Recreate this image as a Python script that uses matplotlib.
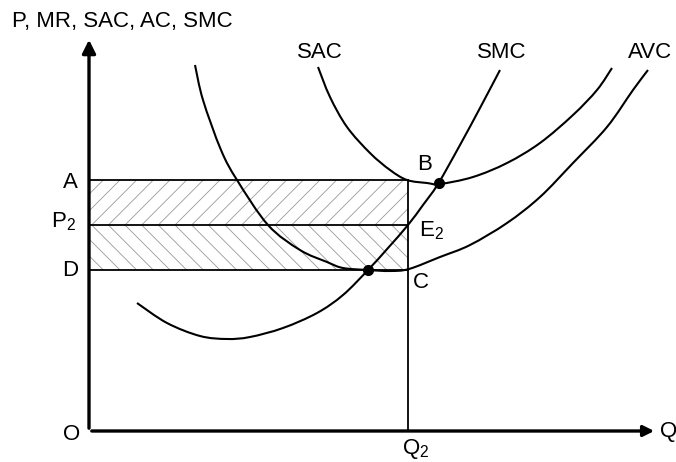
import numpy as np
import matplotlib.pyplot as plt
from matplotlib.patches import Rectangle, PathPatch
from matplotlib.path import Path

plt.rcParams['font.family'] = ['Liberation Sans', 'DejaVu Sans']
plt.rcParams['mathtext.fontset'] = 'custom'
plt.rcParams['mathtext.rm'] = 'Liberation Sans'
plt.rcParams['hatch.linewidth'] = 0.6

# price levels and output (diagram units)
A = 251
P2 = 206
D = 161
Q2 = 319

# short-run average cost
sac_x = [229, 241, 258, 281, 301, 318, 338, 351, 384, 418, 451, 484, 508, 523]
sac_y = [364, 334, 304, 278, 261, 251, 248, 247, 254, 268, 288, 316, 341, 363]

# average variable cost
avc_x = [106, 114, 132, 148, 179, 211, 238, 254, 279, 301, 320, 351, 381, 418, 451, 484, 518, 544, 559]
avc_y = [366, 331, 281, 251, 206, 181, 169, 163, 161, 160, 162, 174, 186, 208, 234, 268, 304, 341, 361]

# short-run marginal cost
smc_x = [48, 78, 111, 138, 161, 194, 228, 254, 279, 299, 319, 334, 349, 371, 391, 411]
smc_y = [128, 108, 95, 92, 94, 103, 118, 136, 161, 183, 206, 226, 247, 286, 323, 361]

# SMC crossing AVC min and SAC min
dot_x = [279, 350]
dot_y = [161, 248]


def smooth_curve(ax, xs, ys, **kw):
    # Catmull-Rom through the read points, drawn as cubic Bezier segments
    p = np.column_stack([xs, ys]).astype(float)
    verts = [p[0]]
    codes = [Path.MOVETO]
    for i in range(len(p) - 1):
        p0 = p[i - 1] if i > 0 else p[i]
        p3 = p[i + 2] if i + 2 < len(p) else p[i + 1]
        c1 = p[i] + (p[i + 1] - p0) / 6
        c2 = p[i + 1] - (p3 - p[i]) / 6
        verts += [c1, c2, p[i + 1]]
        codes += [Path.CURVE4] * 3
    ax.add_patch(PathPatch(Path(verts, codes), fill=False, **kw))


fig = plt.figure(figsize=(6.76, 4.62), dpi=100)
ax = fig.add_axes([0, 0, 1, 1])
ax.set_xlim(-89, 587)
ax.set_ylim(-31, 431)
ax.axis('off')

# hatched bands
ax.add_patch(Rectangle((0, P2), Q2, A - P2, fill=False, hatch='//',
                       edgecolor='0.6', linewidth=0))
ax.add_patch(Rectangle((0, D), Q2, P2 - D, fill=False, hatch='\\\\',
                       edgecolor='0.6', linewidth=0))

for level in (A, P2, D):
    ax.plot([0, Q2], [level, level], color='k', lw=1.3)
ax.plot([Q2, Q2], [0, A], color='k', lw=1.3)

smooth_curve(ax, sac_x, sac_y, edgecolor='k', lw=1.5)
smooth_curve(ax, avc_x, avc_y, edgecolor='k', lw=1.5)
smooth_curve(ax, smc_x, smc_y, edgecolor='k', lw=1.5)
ax.plot(dot_x, dot_y, 'o', color='k', ms=7)

# axes with arrows
ax.annotate('', xy=(0, 394), xytext=(0, 0),
            arrowprops=dict(arrowstyle='-|>', lw=2.4, color='k', mutation_scale=20))
ax.annotate('', xy=(568, 0), xytext=(0, 0),
            arrowprops=dict(arrowstyle='-|>', lw=2.4, color='k', mutation_scale=16))

fs = 16
ax.text(-77, 409, 'P, MR, SAC, AC, SMC', fontsize=fs, ha='left', va='center')
ax.text(231, 378, 'SAC', fontsize=fs, ha='center', va='center')
ax.text(413, 378, 'SMC', fontsize=fs, ha='center', va='center')
ax.text(561, 378, 'AVC', fontsize=fs, ha='center', va='center')
ax.text(336, 266, 'B', fontsize=fs, ha='center', va='center')
ax.text(330, 200, r'E$_\mathregular{2}$', fontsize=fs, ha='left', va='center')
ax.text(332, 148, 'C', fontsize=fs, ha='center', va='center')
ax.text(-11, 248, 'A', fontsize=fs, ha='right', va='center')
ax.text(-38, 209, r'P$_\mathregular{2}$', fontsize=fs, ha='left', va='center')
ax.text(-11, 160, 'D', fontsize=fs, ha='right', va='center')
ax.text(-17, -3, 'O', fontsize=fs, ha='center', va='center')
ax.text(313, -18, r'Q$_\mathregular{2}$', fontsize=fs, ha='left', va='center')
ax.text(571, -1, 'Q', fontsize=fs, ha='left', va='center')

plt.savefig('out.png', dpi=100)
